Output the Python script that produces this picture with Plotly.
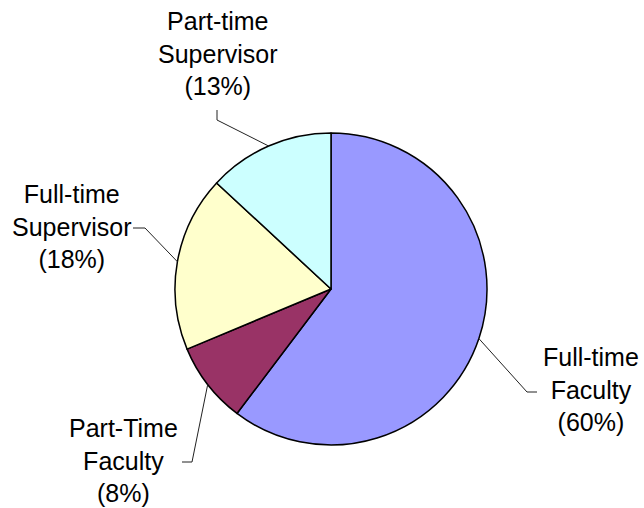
import math
import plotly.graph_objects as go

# data
categories = ["Full-time<br>Faculty", "Part-Time<br>Faculty", "Full-time<br>Supervisor", "Part-time<br>Supervisor"]
values = [60.3, 8.4, 18.2, 13.1]
colors = ["#9999FF", "#993366", "#FFFFCC", "#CCFFFF"]

W, H = 644, 508
cx, cy, r = 331, 289, 156

# label layout (pixels): text centre, elbow start, elbow end
label_pos = [(591, 389), (123, 460), (72, 226), (218, 53)]
elbows = [((537, 392), (527, 392)), ((182, 462), (192, 462)),
          ((133, 228), (145, 228)), ((217, 110), (217, 120))]

fig = go.Figure()

fig.add_trace(go.Pie(
    labels=categories,
    values=values,
    sort=False,
    direction="clockwise",
    rotation=0,
    textinfo="none",
    hoverinfo="label+percent",
    marker=dict(colors=colors, line=dict(color="black", width=1.5)),
    domain=dict(x=[(cx - r) / W, (cx + r) / W], y=[1 - (cy + r) / H, 1 - (cy - r) / H]),
    showlegend=False,
))

total = sum(values)
cum = 0
annotations = []
shapes = []
for cat, v, (lx, ly), (e1, e2) in zip(categories, values, label_pos, elbows):
    # leader line ends at the middle of the slice's arc
    mid = (cum + v / 2) / total * 2 * math.pi
    cum += v
    ax_ = cx + r * math.sin(mid)
    ay_ = cy - r * math.cos(mid)
    annotations.append(dict(
        x=lx, y=ly, xref="x", yref="y",
        text=f"{cat}<br>({v / total * 100:.0f}%)",
        showarrow=False, align="center",
        font=dict(family="Arial, Liberation Sans", size=25, color="black"),
    ))
    shapes.append(dict(
        type="path", xref="x", yref="y",
        path=f"M {e1[0]},{e1[1]} L {e2[0]},{e2[1]} L {ax_:.1f},{ay_:.1f}",
        line=dict(color="#222222", width=1),
    ))

fig.update_layout(
    width=W, height=H,
    margin=dict(l=0, r=0, t=0, b=0),
    paper_bgcolor="white",
    plot_bgcolor="rgba(0,0,0,0)",
    xaxis=dict(range=[0, W], visible=False, fixedrange=True),
    yaxis=dict(range=[H, 0], visible=False, fixedrange=True),
    annotations=annotations,
    shapes=shapes,
)

# drop the default 8px body margin so the figure fills the window
fig.write_html("out.html", config={"displayModeBar": False},
               post_script="document.body.style.margin='0';")
